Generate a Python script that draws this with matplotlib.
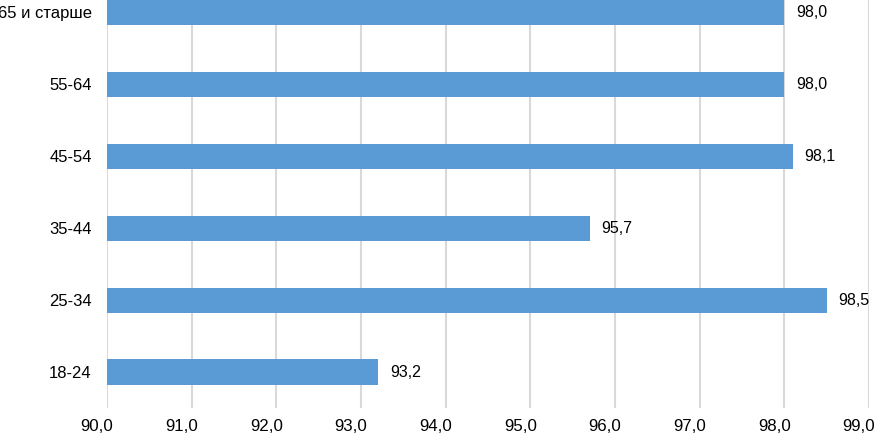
import matplotlib.pyplot as plt
import matplotlib.transforms as mtransforms
import numpy as np

# age groups, bottom to top
groups = ['18-24', '25-34', '35-44', '45-54', '55-64', '65 и старше']
values = [93.2, 98.5, 95.7, 98.1, 98.0, 98.0]
xticks = [90, 91, 92, 93, 94, 95, 96, 97, 98, 99]

plt.rcParams['font.family'] = ['Liberation Sans', 'DejaVu Sans']

fig = plt.figure(figsize=(8.76, 4.36), dpi=100)
ax = fig.add_axes([107 / 876, 28 / 436, (869 - 107) / 876, 431.5 / 436])

y = np.arange(len(groups))
ax.barh(y, [v - 90 for v in values], left=90, height=0.35, color='#5B9BD5', zorder=3)

# value labels to the right of each bar
for yi, v in zip(y, values):
    ax.text(v + 0.14, yi, f'{v:.1f}'.replace('.', ','), va='center', ha='left',
            fontsize=11.5, color='#000000')

ax.set_xlim(90, 99)
ax.set_ylim(-0.5, len(groups) - 0.5)
ax.set_xticks(xticks)
ax.set_xticklabels([f'{t:.1f}'.replace('.', ',') for t in xticks], fontsize=12.2)
ax.set_yticks(y)
ax.set_yticklabels(groups, fontsize=12)
ax.tick_params(axis='both', length=0)
ax.tick_params(axis='x', pad=8)
ax.tick_params(axis='y', pad=11)

# x labels sit a little left of their gridlines in the original
shift = mtransforms.ScaledTranslation(-10 / 100, 0, fig.dpi_scale_trans)
for lbl in ax.get_xticklabels():
    lbl.set_transform(lbl.get_transform() + shift)

ax.grid(axis='x', color='#D9D9D9', linewidth=1.5, zorder=0)
for s in ax.spines.values():
    s.set_visible(False)

fig.savefig('out.png', dpi=100)
